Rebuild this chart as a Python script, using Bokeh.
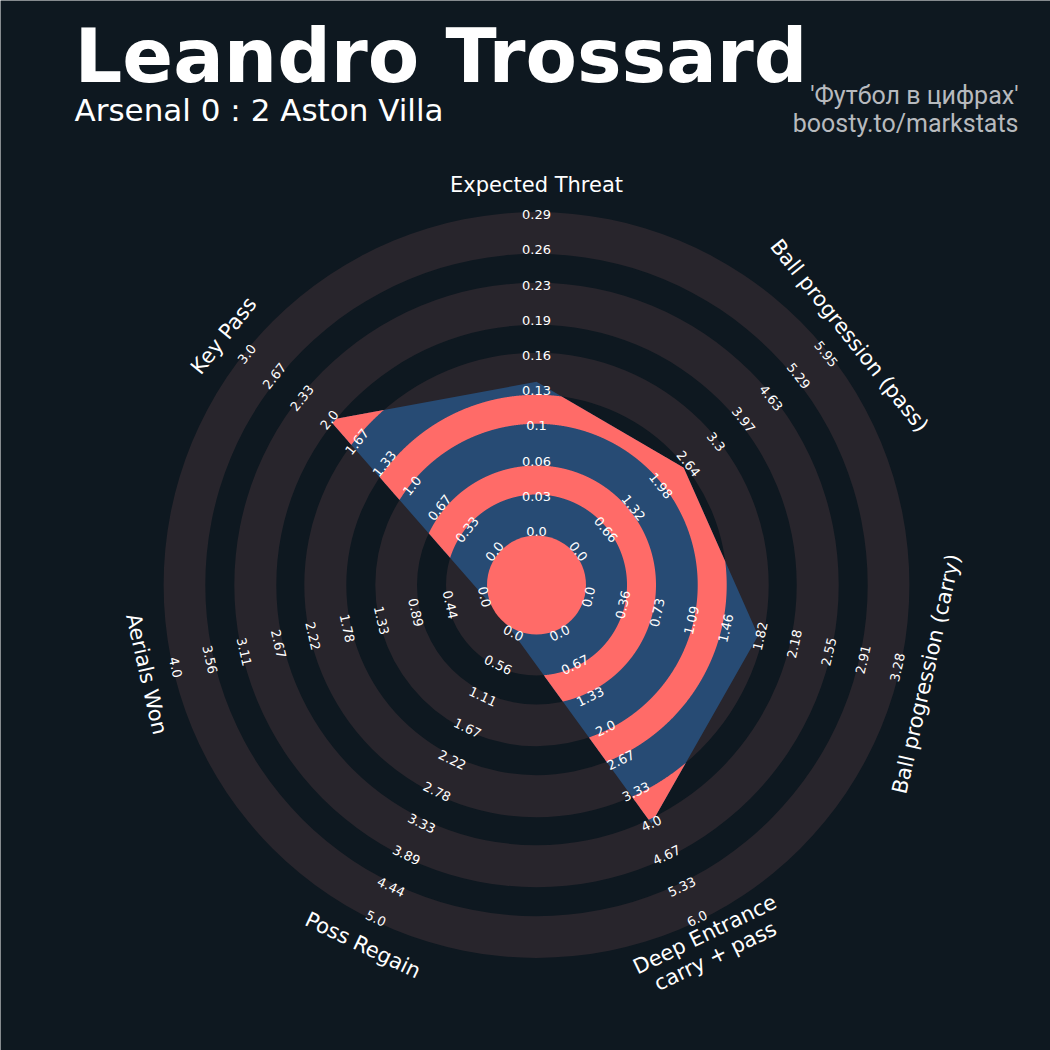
import numpy as np
from bokeh.plotting import figure
from bokeh.models import Range1d
from bokeh.core.properties import value
from bokeh.embed import file_html
from bokeh.resources import INLINE

# ---- data -------------------------------------------------------------
params = ["Expected Threat", "Ball progression (pass)", "Ball progression (carry)",
          "Deep Entrance\ncarry + pass", "Poss Regain", "Aerials Won", "Key Pass"]
low = [0.0, 0.0, 0.0, 0.0, 0.0, 0.0, 0.0]
high = [0.29, 5.949, 3.28, 6.0, 5.0, 4.0, 3.0]
player_values = [0.137, 2.53, 1.80, 4.0, 0.0, 0.0, 2.0]

range_labels = [
    ["0.0", "0.03", "0.06", "0.1", "0.13", "0.16", "0.19", "0.23", "0.26", "0.29"],
    ["0.0", "0.66", "1.32", "1.98", "2.64", "3.3", "3.97", "4.63", "5.29", "5.95"],
    ["0.0", "0.36", "0.73", "1.09", "1.46", "1.82", "2.18", "2.55", "2.91", "3.28"],
    ["0.0", "0.67", "1.33", "2.0", "2.67", "3.33", "4.0", "4.67", "5.33", "6.0"],
    ["0.0", "0.56", "1.11", "1.67", "2.22", "2.78", "3.33", "3.89", "4.44", "5.0"],
    ["0.0", "0.44", "0.89", "1.33", "1.78", "2.22", "2.67", "3.11", "3.56", "4.0"],
    ["0.0", "0.33", "0.67", "1.0", "1.33", "1.67", "2.0", "2.33", "2.67", "3.0"],
]

title = "Leandro Trossard"
subtitle = "Arsenal 0 : 2 Aston Villa"
credits = ["'Футбол в цифрах'", "boosty.to/markstats"]

# ---- style / geometry ----------------------------------------------------
W = H = 1050
BG = "#0e1820"
RING = "#28252c"
BLUE = "#274b74"
PINK = "#ff6b68"
CX, CY = 536.0, H - 584.5
CENTER_R = 49.5
LABEL_R0, LABEL_STEP = 53.5, 35.2
N_LAB = 10
PARAM_R = 400.0
gray_bands = [(49.5, 90.5), (119.5, 161.2), (190.2, 232.2), (260.2, 302.2), (331.2, 372.9)]
inner_bands = [(90.5, 119.5), (161.2, 190.2), (232.2, 260.2), (302.2, 331.2)]

n = len(params)
theta = np.deg2rad(90.0 - np.arange(n) * 360.0 / n)
r_max = LABEL_R0 + (N_LAB - 1) * LABEL_STEP


def to_radius(v, lo, hi):
    return LABEL_R0 + (v - lo) / (hi - lo) * (r_max - LABEL_R0)


def text_rotation(t):
    rot = np.rad2deg(t) - 90.0
    rot = (rot + 180.0) % 360.0 - 180.0
    if rot < -90.0 or rot > 90.0:
        rot = (rot + 360.0) % 360.0 - 180.0
    return np.deg2rad(rot)


p = figure(width=W, height=H, x_range=Range1d(0, W), y_range=Range1d(0, H),
           output_backend="svg", toolbar_location=None, min_border=0,
           x_axis_location=None, y_axis_location=None,
           background_fill_color=BG, border_fill_color=BG)
p.grid.visible = False
p.outline_line_color = None

# background rings
p.annulus(x=[CX] * len(gray_bands), y=[CY] * len(gray_bands),
          inner_radius=[b[0] for b in gray_bands], outer_radius=[b[1] for b in gray_bands],
          fill_color=RING, line_color=None)

# radar polygon
rad = np.array([to_radius(v, lo, hi) for v, lo, hi in zip(player_values, low, high)])
px = rad * np.cos(theta)
py = rad * np.sin(theta)
p.patch(CX + px, CY + py, fill_color=BLUE, line_color=None)


# distance from centre to the polygon edge along a ray (polygon is star shaped)
def ray_extent(t):
    d = np.array([np.cos(t), np.sin(t)])
    best = 0.0
    for i in range(n):
        a = np.array([px[i], py[i]])
        b = np.array([px[(i + 1) % n], py[(i + 1) % n]])
        e = b - a
        den = d[0] * e[1] - d[1] * e[0]
        if abs(den) < 1e-12:
            continue
        tt = (a[0] * e[1] - a[1] * e[0]) / den
        s = (a[0] * d[1] - a[1] * d[0]) / den
        if -1e-9 <= s <= 1 + 1e-9 and tt > best:
            best = tt
    return best


start = (theta[4] + theta[5]) / 2.0
sweep = np.sort(np.concatenate([
    start - np.deg2rad(np.arange(0, 360.0, 0.1)),
    np.array([start - ((start - tk) % (2 * np.pi)) for tk in theta]),
]))[::-1]
extent = np.array([ray_extent(t) for t in sweep])

ring_xs, ring_ys = [], []
for a, b in inner_bands:
    inside = extent > a
    idx = np.where(inside)[0]
    if len(idx) == 0:
        continue
    runs = np.split(idx, np.where(np.diff(idx) > 1)[0] + 1)
    for run in runs:
        tr = sweep[run]
        outer = np.minimum(b, extent[run])
        xs = np.concatenate([CX + outer * np.cos(tr), (CX + a * np.cos(tr))[::-1]])
        ys = np.concatenate([CY + outer * np.sin(tr), (CY + a * np.sin(tr))[::-1]])
        ring_xs.append(xs)
        ring_ys.append(ys)
p.patches(ring_xs, ring_ys, fill_color=PINK, line_color=None)

# centre circle
p.circle(x=[CX], y=[CY], radius=CENTER_R, fill_color=PINK, line_color=None)

# range labels along each spoke
lx, ly, lt, la = [], [], [], []
for k in range(n):
    for i, lab in enumerate(range_labels[k]):
        r = LABEL_R0 + i * LABEL_STEP
        lx.append(CX + r * np.cos(theta[k]))
        ly.append(CY + r * np.sin(theta[k]))
        lt.append(lab)
        la.append(text_rotation(theta[k]))
p.text(x=lx, y=ly, text=lt, angle=la, text_font=value("DejaVu Sans"),
       text_font_size="13px", text_color="#ffffff",
       text_align="center", text_baseline="middle")

# parameter names
p.text(x=list(CX + PARAM_R * np.cos(theta)), y=list(CY + PARAM_R * np.sin(theta)),
       text=params, angle=[text_rotation(t) for t in theta],
       text_font=value("DejaVu Sans"), text_font_size="21px", text_color="#ffffff",
       text_align="center", text_baseline="middle", text_line_height=1.0)

# titles
p.text(x=[74], y=[H - 55], text=[title], text_font=value("DejaVu Sans"),
       text_font_size="75px", text_font_style="bold", text_color="#ffffff",
       text_align="left", text_baseline="alphabetic")
p.text(x=[74], y=[H - 109], text=[subtitle], text_font=value("DejaVu Sans"),
       text_font_size="31px", text_color="#ffffff",
       text_align="left", text_baseline="alphabetic")
p.text(x=[1018, 1018], y=[H - 94.6, H - 122.6], text=credits, text_font=value("Roboto"),
       text_font_size="25px", text_color="#b7babe",
       text_align="right", text_baseline="alphabetic")

open("out.html", "w").write(file_html(p, INLINE))
